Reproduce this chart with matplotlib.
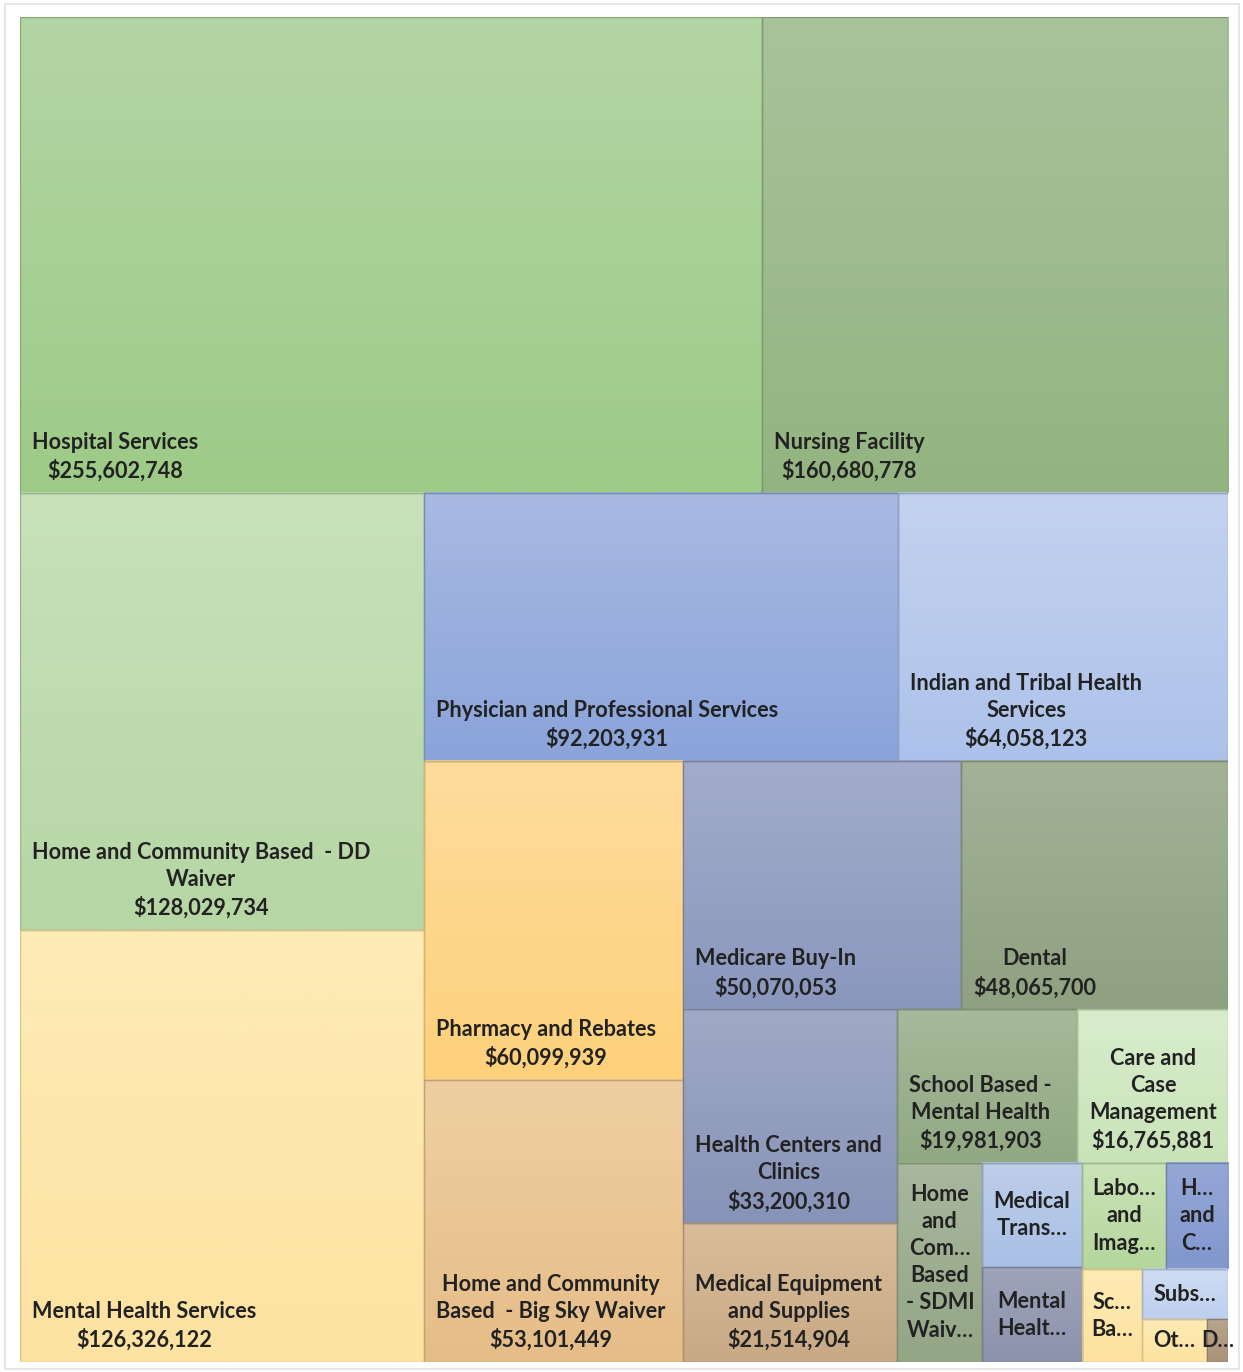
"""Medicaid expenditure treemap (Excel-style, gradient cells)."""

import matplotlib

matplotlib.use("Agg")
import matplotlib.pyplot as plt  # noqa: E402
import numpy as np  # noqa: E402
from matplotlib.colors import to_rgb  # noqa: E402
from matplotlib.patches import Rectangle  # noqa: E402

# cell labels as shown (wrapped); "…" marks labels Excel truncated (no value shown)
names = [
    "Hospital Services",
    "Nursing Facility",
    "Home and Community Based  - DD\nWaiver",
    "Mental Health Services",
    "Physician and Professional Services",
    "Indian and Tribal Health\nServices",
    "Pharmacy and Rebates",
    "Home and Community\nBased  - Big Sky Waiver",
    "Medicare Buy-In",
    "Dental",
    "Health Centers and\nClinics",
    "Medical Equipment\nand Supplies",
    "School Based -\nMental Health",
    "Care and\nCase\nManagement",
    "Home\nand\nCom…\nBased\n- SDMI\nWaiv…",
    "Medical\nTrans…",
    "Mental\nHealt…",
    "Labo…\nand\nImag…",
    "H…\nand\nC…",
    "Sc…\nBa…",
    "Subs…",
    "Ot…",
    "D…",
]
values = [
    255602748, 160680778, 128029734, 126326122, 92203931, 64058123,
    60099939, 53101449, 50070053, 48065700, 33200310, 21514904,
    19981903, 16765881,
    # truncated cells: estimated from their areas
    12260000, 7550000, 6850000, 6470000, 4800000, 4050000, 3130000,
    2010000, 640000,
]
# how many cells Excel put in each strip
groups = [2, 2, 2, 2, 2, 2, 2, 1, 2, 2, 1, 1, 1, 1]

# (top, bottom) gradient colours per cell
colors = [
    ("#b4d5a5", "#9dcb87"), ("#a8c39b", "#93b481"), ("#c8e1bb", "#b6d6a4"),
    ("#fdebb6", "#fde3a1"), ("#a9b9e2", "#8aa4da"), ("#c4d2ef", "#adc2ea"),
    ("#fedc9c", "#fdd17b"), ("#efcfa2", "#e5bd88"), ("#a3acca", "#8a97bd"),
    ("#a3b297", "#8fa181"), ("#a0a9c5", "#8793b8"), ("#d9bd9a", "#c8a985"),
    ("#a6b999", "#92a883"), ("#d9edcd", "#c9e3b8"), ("#a8b79d", "#93a686"),
    ("#bdcee9", "#a9c0e6"), ("#9ea4b9", "#8b92ab"), ("#cae3b7", "#b5d69d"),
    ("#95a7d6", "#8197cd"), ("#feebb4", "#fde2a0"), ("#d0ddf3", "#bccfee"),
    ("#feebb4", "#fde3a2"), ("#b9a58d", "#a89279"),
]

W, H = 1208, 1345  # plot area in pixels
FONT = dict(fontsize=15.6, fontweight="bold", family="Lato", color="#222222",
            linespacing=1.36, multialignment="center")


def strip_layout(vals, sizes, x, y, w, h):
    """Squarified-style strips along the shorter side, with given strip sizes."""
    scale = w * h / sum(vals)
    rects, i = [], 0
    for n in sizes:
        chunk = vals[i:i + n]
        area = sum(chunk) * scale
        if w <= h:  # strip across the top
            sh = area / w
            cx = x
            for v in chunk:
                cw = v * scale / sh
                rects.append((cx, y, cw, sh))
                cx += cw
            y += sh
            h -= sh
        else:  # strip down the left
            sw = area / h
            cy = y
            for v in chunk:
                ch = v * scale / sw
                rects.append((x, cy, sw, ch))
                cy += ch
            x += sw
            w -= sw
        i += n
    return rects


fig = plt.figure(figsize=(12.43, 13.72), dpi=100)
fig.patches.append(Rectangle((5 / 1243, 3 / 1372), 1234 / 1243, 1365 / 1372,
                             transform=fig.transFigure, fill=False,
                             edgecolor="#e3e3e3", lw=1.2))
ax = fig.add_axes([20 / 1243, 10 / 1372, W / 1243, H / 1372])

rects = strip_layout(values, groups, 0, 0, W, H)
for (x0, y0, w, h), name, v, (c_top, c_bot) in zip(rects, names, values, colors):
    grad = np.linspace(0, 1, 64)[:, None, None]
    img = (1 - grad) * np.array(to_rgb(c_top)) + grad * np.array(to_rgb(c_bot))
    ax.imshow(img, extent=(x0, x0 + w, y0 + h, y0), origin="upper",
              aspect="auto", interpolation="bilinear")
    edge = tuple(c * 0.85 for c in to_rgb(c_bot))
    ax.add_patch(Rectangle((x0, y0), w, h, fill=False, edgecolor=edge, lw=1))
    if "…" in name:
        ax.text(x0 + w / 2, y0 + h / 2, name, ha="center", va="center", **FONT)
    else:
        ax.text(x0 + 12, y0 + h - 11, f"{name}\n${v:,}", ha="left",
                va="bottom", **FONT)

ax.set_xlim(0, W)
ax.set_ylim(H, 0)
ax.axis("off")

fig.savefig("out.png", dpi=100, facecolor="white")
